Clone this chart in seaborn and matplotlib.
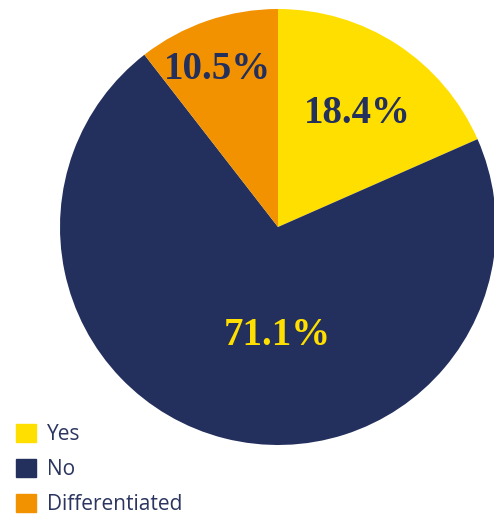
import matplotlib
matplotlib.use("Agg")
import matplotlib.pyplot as plt
import numpy as np
import seaborn as sns

categories = ["Yes", "No", "Differentiated"]
shares = [18.4, 71.1, 10.5]
colors = ["#FFDF00", "#232F5C", "#F39200"]
label_colors = ["#232F5C", "#FFDF00", "#232F5C"]
# label placement: distance from centre (in radii) and angular nudge from the wedge middle
label_radius = [0.65, 0.48, 0.79]
label_turn = [-1.0, 13.7, 1.7]

sns.set_theme(style="white")
plt.rcParams["font.family"] = ["Open Sans", "DejaVu Sans"]

fig = plt.figure(figsize=(4.94, 5.19), dpi=100)
ax = fig.add_axes([60 / 494, 74 / 519, 436 / 494, 436 / 519])

wedges, _ = ax.pie(shares, colors=colors, startangle=90, counterclock=False,
                   radius=1, wedgeprops=dict(linewidth=0))
for w in wedges:
    w.set_clip_on(False)
ax.set_xlim(-1, 1)
ax.set_ylim(-1, 1)
ax.set_aspect("equal")
ax.axis("off")

for w, val, col, r, turn in zip(wedges, shares, label_colors, label_radius, label_turn):
    mid = np.deg2rad((w.theta1 + w.theta2) / 2 + turn)
    ax.annotate(f"{val}%", (r * np.cos(mid), r * np.sin(mid)),
                xytext=(0, -3), textcoords="offset points",
                ha="center", va="center", fontsize=28, fontweight="bold",
                color=col, family=["Liberation Serif", "DejaVu Serif"])

handles = [plt.Rectangle((0, 0), 1, 1, color=c) for c in colors]
leg = fig.legend(handles, categories, loc="lower left", bbox_to_anchor=(-0.006, -0.028),
                 frameon=False, fontsize=15, handlelength=0.95, handleheight=0.95,
                 handletextpad=0.55, labelspacing=0.65, labelcolor="#2B3560")

fig.savefig("out.png", dpi=100)
